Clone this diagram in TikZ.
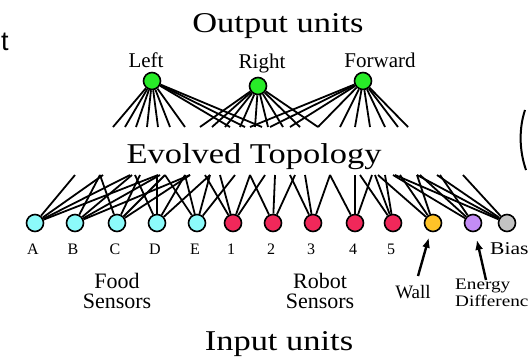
\documentclass[tikz,border=0pt]{standalone}
\usepackage{fontspec}
\setmainfont{Liberation Serif}
\newfontfamily\titlefont[FakeStretch=1.2]{Liberation Serif}
\newfontfamily\slidefont{Liberation Sans}
\usetikzlibrary{arrows.meta,positioning}
\definecolor{outgreen}{RGB}{40,235,40}
\definecolor{foodcyan}{RGB}{140,250,250}
\definecolor{robotred}{RGB}{240,40,90}
\definecolor{wallyellow}{RGB}{255,195,40}
\definecolor{energypurple}{RGB}{195,140,245}
\definecolor{biasgray}{RGB}{195,195,195}

\begin{document}
\begin{tikzpicture}[x=1pt, y=-1pt, >={Latex[length=10pt,width=8pt]},
             unit/.style = {draw, circle, line width=1.6pt, minimum size=17pt, inner sep=0pt},
             wire/.style = {line width=1.8pt},
            title/.style = {font=\titlefont\fontsize{28.7}{30}\selectfont, anchor=base, inner sep=0pt},
           outlab/.style = {font=\fontsize{21}{22}\selectfont, anchor=base, inner sep=0pt},
            inlab/.style = {font=\fontsize{16}{17}\selectfont, anchor=base, inner sep=0pt},
           grplab/.style = {font=\fontsize{22}{20}\selectfont, align=center, anchor=base, inner sep=0pt},
]
\useasboundingbox (0,0) rectangle (529,359);
\clip (0,0) rectangle (529,359);

\node[font=\slidefont\fontsize{27}{28}\selectfont, anchor=base west, inner sep=0pt] (tfrag) at (1,50) {t};
\draw[line width=2pt] (526,170) .. controls (519,150) and (519,128) .. (525,110);

%% output units
\node[title] (outtitle) at (278,32) {Output units};
\node[unit, fill=outgreen] (left)    at (152,81) {};
\node[unit, fill=outgreen] (right)   at (258,86) {};
\node[unit, fill=outgreen] (forward) at (363,81) {};
\node[outlab] (leftlab)    at (146,67) {Left};
\node[outlab] (rightlab)   at (262,68) {Right};
\node[outlab] (forwardlab) at (380,67) {Forward};

\foreach \x [count=\i] in {113,125,136,147,158,170,185,230,245,262}
  {\coordinate (lt\i) at (\x,127); \draw[wire] (left) -- (lt\i);}
\foreach \x [count=\i] in {200,212,225,240,255,268,283,300,318}
  {\coordinate (rt\i) at (\x,127); \draw[wire] (right) -- (rt\i);}
\foreach \x [count=\i] in {250,270,290,318,340,355,370,385,398,408}
  {\coordinate (ft\i) at (\x,127); \draw[wire] (forward) -- (ft\i);}

\node[title] (evolved) at (254,163) {Evolved Topology};

%% input units
\foreach \name/\x/\col/\txt in {a/35/foodcyan/A, b/75/foodcyan/B, c/117/foodcyan/C,
    d/157/foodcyan/D, e/197/foodcyan/E, r1/233/robotred/1, r2/273/robotred/2,
    r3/313/robotred/3, r4/355/robotred/4, r5/393/robotred/5}
  {\node[unit, fill=\col] (\name) at (\x,223) {};
   \node[inlab] at (\x-2,254) {\txt};}
\node[unit, fill=wallyellow]   (wall)   at (433,223) {};
\node[unit, fill=energypurple] (energy) at (473,223) {};
\node[unit, fill=biasgray]     (bias)   at (507,223) {};
\node[font=\titlefont\fontsize{18}{19}\selectfont, anchor=base west, inner sep=0pt] (biaslab) at (490,254) {Bias};

\foreach \src/\x [count=\i] in {a/75, a/103, a/130, a/158, b/100, b/132, b/160, b/190,
    c/100, c/140, c/165, c/190, d/135, d/157, d/185, d/210, e/165, e/185, e/210, e/235,
    r1/205, r1/220, r1/250, r1/265, r2/250, r2/275, r2/295, r3/290, r3/305, r3/330,
    r4/330, r4/355, r4/372, r5/360, r5/375, r5/385, wall/378, wall/400, wall/417,
    energy/393, energy/420, energy/440, bias/395, bias/417, bias/437, bias/463}
  {\coordinate (up\i) at (\x,175); \draw[wire] (\src) -- (up\i);}

\node[grplab] (food)  at (117,308) {Food\\Sensors};
\node[grplab] (robot) at (320,308) {Robot\\Sensors};
\node[font=\fontsize{19}{20}\selectfont, anchor=base, inner sep=0pt] (walllab) at (413,298) {Wall};
\node[font=\titlefont\fontsize{16}{17}\selectfont, align=left, anchor=base west, inner sep=0pt] (energylab) at (455,306) {Energy\\Difference};

\coordinate (walltail)   at (418,276);
\coordinate (energytail) at (486,280);
\draw[wire, line width=2.4pt, ->, shorten >=6pt] (walltail) -- (wall);
\draw[wire, line width=2.4pt, ->, shorten >=8pt] (energytail) -- (energy);

\node[title] (intitle) at (279,350) {Input units};
\end{tikzpicture}
\end{document}
